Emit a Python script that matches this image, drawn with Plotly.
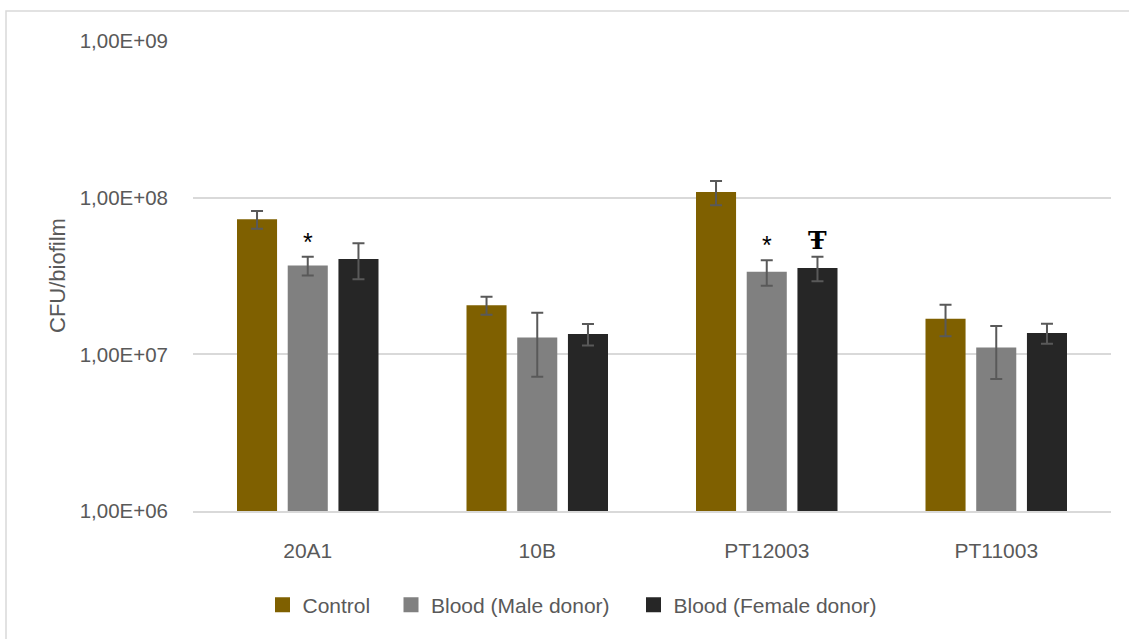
import math
import plotly.graph_objects as go

# Biofilm counts (CFU/biofilm) per strain and growth condition
categories = ["20A1", "10B", "PT12003", "PT11003"]
series_names = ["Control", "Blood (Male donor)", "Blood (Female donor)"]

control = [7.27e7, 2.06e7, 1.086e8, 1.69e7]
control_err = [9.4e6, 2.7e6, 1.9e7, 3.85e6]
male = [3.69e7, 1.28e7, 3.36e7, 1.107e7]
male_err = [5.1e6, 5.6e6, 6.2e6, 4.1e6]
female = [4.06e7, 1.35e7, 3.56e7, 1.37e7]
female_err = [1.05e7, 2.1e6, 6.3e6, 2.0e6]

tick_vals = [1e6, 1e7, 1e8, 1e9]
tick_text = ["1,00E+06", "1,00E+07", "1,00E+08", "1,00E+09"]

# significance marks: (category, series index, symbol)
sig_marks = [("20A1", 1, "*"), ("PT12003", 1, "*"), ("PT12003", 2, "Ŧ")]

colors = ["#7F6000", "#808080", "#262626"]
values = [control, male, female]
errors = [control_err, male_err, female_err]

FONT = "Liberation Sans, Arial, sans-serif"
TEXT = "#595959"
GRID = "#D9D9D9"

# pixel geometry of the plot area
W, H = 1129, 639
L, R, T, B = 193, 18, 41, 128
plot_w = W - L - R
plot_h = H - T - B
slot_px = 50.7  # centre-to-centre distance of neighbouring bars


def px_x(px):
    return (px - L) / plot_w


def px_y(py):
    return (H - B - py) / plot_h


fig = go.Figure()
for name, vals, errs, col in zip(series_names, values, errors, colors):
    fig.add_trace(go.Bar(
        x=categories, y=vals, name=name, showlegend=False,
        marker=dict(color=col, line=dict(width=0)),
        error_y=dict(type="data", array=errs, visible=True,
                     color="#595959", thickness=2, width=6),
    ))

# legend entries with larger square swatches, one legend per series
legend_ids = ["legend", "legend2", "legend3"]
legend_left_px = [262.5, 391, 633.5]
for name, col, lid in zip(series_names, colors, legend_ids):
    fig.add_trace(go.Scatter(
        x=[None], y=[None], name=name, mode="markers", legend=lid,
        marker=dict(symbol="square", size=15, color=col),
        showlegend=True, hoverinfo="skip",
    ))

legend_layout = {}
for lid, lx in zip(legend_ids, legend_left_px):
    legend_layout[lid] = dict(
        orientation="h", x=px_x(lx), xanchor="left",
        y=px_y(605), yanchor="middle",
        font=dict(family=FONT, size=21, color=TEXT),
        itemwidth=30, bgcolor="rgba(0,0,0,0)", borderwidth=0,
    )

annotations = []
for cat, si, sym in sig_marks:
    ci = categories.index(cat)
    top = values[si][ci] + errors[si][ci]
    is_tau = sym != "*"
    annotations.append(dict(
        x=cat, y=math.log10(top), xref="x", yref="y",
        text=f"<b>{sym}</b>" if is_tau else sym, showarrow=False,
        xanchor="center", yanchor="bottom",
        xshift=(si - 1) * slot_px, yshift=0 if is_tau else -1,
        font=dict(family="DejaVu Serif" if is_tau else FONT,
                  size=25 if is_tau else 25, color="#000000"),
    ))

# y-axis title
annotations.append(dict(
    x=px_x(57), y=px_y(276), xref="paper", yref="paper",
    text="CFU/biofilm", textangle=-90, showarrow=False,
    xanchor="center", yanchor="middle",
    font=dict(family=FONT, size=22, color=TEXT),
))

# light frame around the chart
shapes = [dict(
    type="rect", xref="paper", yref="paper",
    x0=px_x(6), x1=1.1, y0=-0.4, y1=px_y(11),
    line=dict(color=GRID, width=1.5), fillcolor="rgba(0,0,0,0)", layer="below",
)]

fig.update_layout(
    width=W, height=H, autosize=False,
    margin=dict(l=L, r=R, t=T, b=B, pad=0),
    paper_bgcolor="white", plot_bgcolor="white",
    barmode="group", bargap=0.337, bargroupgap=0.21,
    font=dict(family=FONT, size=21, color=TEXT),
    showlegend=True,
    annotations=annotations,
    shapes=shapes,
    xaxis=dict(
        showgrid=False, showline=True, linecolor=GRID, linewidth=1.5,
        ticks="", ticklabelstandoff=20,
        tickfont=dict(family=FONT, size=21, color=TEXT),
    ),
    yaxis=dict(
        type="log", range=[6, 9],
        tickvals=tick_vals, ticktext=tick_text,
        showgrid=True, gridcolor=GRID, gridwidth=1.5,
        showline=False, zeroline=False, ticks="",
        ticklabelstandoff=24,
        tickfont=dict(family=FONT, size=20.5, color=TEXT),
    ),
    **legend_layout,
)

fig.write_html("out.html")
